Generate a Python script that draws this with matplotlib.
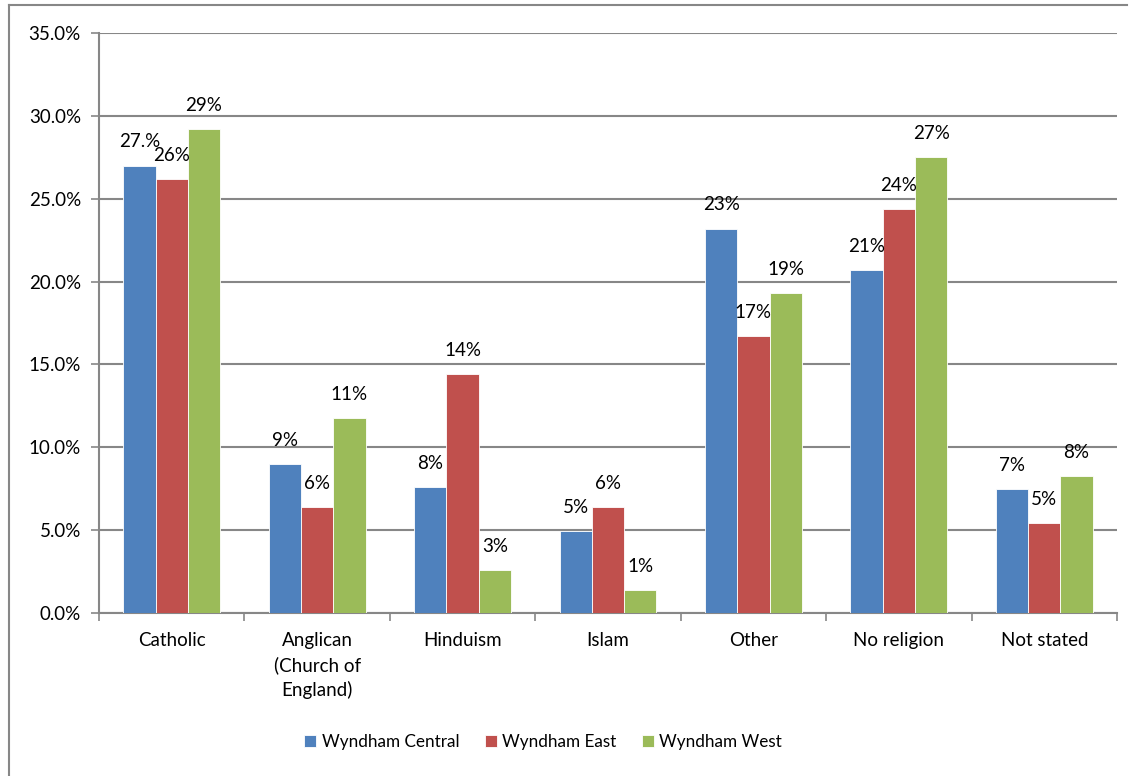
import matplotlib.pyplot as plt
import numpy as np
from matplotlib.lines import Line2D

plt.rcParams['font.family'] = ['Lato', 'DejaVu Sans']

categories = ['Catholic', 'Anglican\n(Church of\nEngland)', 'Hinduism', 'Islam',
              'Other', 'No religion', 'Not stated']
series = ['Wyndham Central', 'Wyndham East', 'Wyndham West']
central = [27.0, 9.0, 7.6, 4.95, 23.2, 20.7, 7.5]
east = [26.2, 6.4, 14.4, 6.4, 16.7, 24.4, 5.45]
west = [29.2, 11.75, 2.6, 1.4, 19.3, 27.5, 8.25]
central_labels = ['27.%', '9%', '8%', '5%', '23%', '21%', '7%']
east_labels = ['26%', '6%', '14%', '6%', '17%', '24%', '5%']
west_labels = ['29%', '11%', '3%', '1%', '19%', '27%', '8%']
yticks = [0, 5, 10, 15, 20, 25, 30, 35]

colors = ['#4F81BD', '#C0504D', '#9BBB59']
grid_col = '#878787'
fs = 13.5

fig = plt.figure(figsize=(11.33, 7.76), dpi=100)
ax = fig.add_axes([99/1133, 1 - 613/776, (1117 - 99)/1133, (613 - 33)/776])

x = np.arange(len(categories)) + 0.5
w = 1 / 4.5
for i, (vals, labs) in enumerate(zip([central, east, west],
                                     [central_labels, east_labels, west_labels])):
    pos = x + (i - 1) * w
    ax.bar(pos, vals, width=w, color=colors[i], edgecolor='white', linewidth=0.6,
           label=series[i], zorder=3)
    for px, v, t in zip(pos, vals, labs):
        ax.annotate(t, (px, v), xytext=(0, 17), textcoords='offset points',
                    ha='center', va='center', fontsize=fs, color='black', zorder=4)

ax.set_xlim(0, len(categories))
ax.set_ylim(0, 35)
ax.set_yticks(yticks)
ax.set_yticklabels([f'{t:.1f}%' for t in yticks], fontsize=fs)
ax.yaxis.grid(True, color=grid_col, linewidth=1.5, zorder=0)
ax.set_axisbelow(True)

ax.set_xticks(np.arange(len(categories) + 1))
ax.set_xticklabels([])
ax.set_xticks(x, minor=True)
ax.set_xticklabels(categories, minor=True, fontsize=fs, linespacing=1.45, va='top')
ax.tick_params(axis='x', which='minor', length=0, pad=14)
ax.tick_params(axis='x', which='major', length=6, width=1.2, color=grid_col, direction='out')
ax.tick_params(axis='y', length=6, width=1.2, color=grid_col, pad=7)

for s in ['top', 'right']:
    ax.spines[s].set_visible(False)
for s in ['left', 'bottom']:
    ax.spines[s].set_color(grid_col)
    ax.spines[s].set_linewidth(1.5)

fig.legend(loc='center', bbox_to_anchor=(543/1133, 1 - 742/776), ncol=3,
           frameon=False, fontsize=12.3, handlelength=0.7, handleheight=0.7,
           handletextpad=0.3, columnspacing=1.5)

# outer chart frame
fig.add_artist(Line2D([9/1133, 1127/1133], [1 - 5/776, 1 - 5/776],
                      transform=fig.transFigure, color=grid_col, linewidth=1.5))
fig.add_artist(Line2D([9/1133, 9/1133], [1 - 5/776, 0],
                      transform=fig.transFigure, color=grid_col, linewidth=1.5))

fig.savefig('out.png', dpi=100)
